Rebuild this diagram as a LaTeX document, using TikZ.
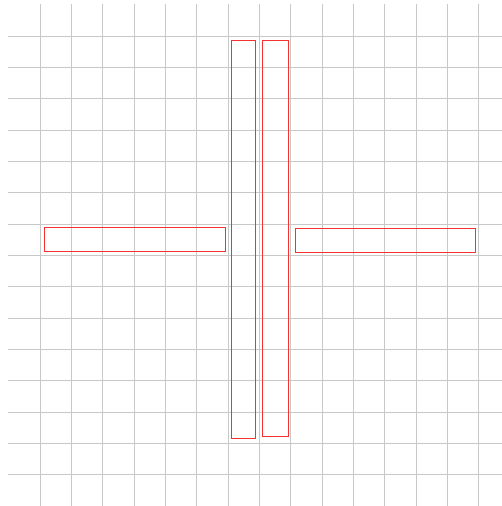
\documentclass[tikz,border=0pt]{standalone}
\definecolor{gridgray}{RGB}{200,200,200}
\definecolor{barred}{RGB}{245,50,50}
\begin{document}
\begin{tikzpicture}[x=1pt,y=-1pt,
  gridline/.style={draw=gridgray,line width=1pt},
  bar/.style={draw=barred,line width=1.2pt}]
\useasboundingbox (0,0) rectangle (502,506);
\foreach \k in {1,...,15}{
  \pgfmathsetmacro{\gx}{floor(8.87+31.33*\k)+0.5}
  \pgfmathsetmacro{\gy}{floor(4.87+31.33*\k)+0.5}
  \draw[gridline] (\gx,4) -- (\gx,506);
  \draw[gridline] (8,\gy) -- (502,\gy);
}
\draw[bar] (231.5,40.5) rectangle (255.5,438.5);
\draw[bar] (262.5,40.5) rectangle (288.5,436.5);
\draw[bar] (44.5,227.5) rectangle (225.5,251.5);
\draw[bar] (295.5,228.5) rectangle (475.5,252.5);
\end{tikzpicture}
\end{document}
